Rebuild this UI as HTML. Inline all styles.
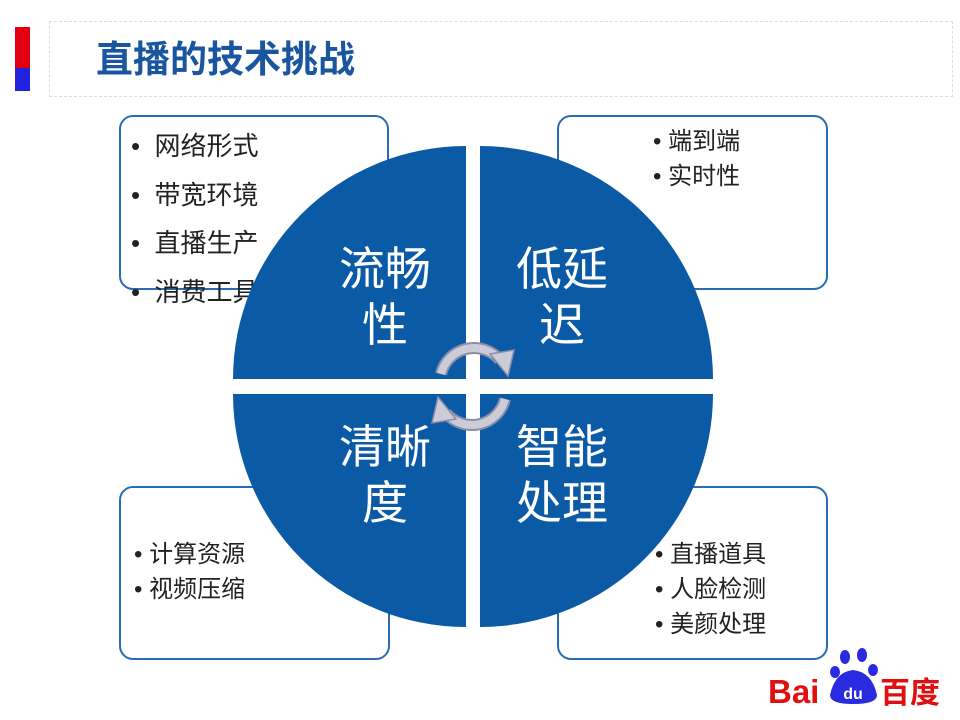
<!DOCTYPE html>
<html><head><meta charset="utf-8"><style>
body{margin:0;width:960px;height:720px;background:#fff;overflow:hidden;position:relative;font-family:"Liberation Sans","Noto Sans CJK SC",sans-serif}
.bar1{position:absolute;left:15px;top:27px;width:15px;height:41px;background:#e00010}
.bar2{position:absolute;left:15px;top:68px;width:15px;height:23px;background:#2222e0}
.hdr{position:absolute;left:49px;top:21px;width:904px;height:76px;border:1px dashed #ddd;box-sizing:border-box}
.title{position:absolute;left:96px;top:37px;font-size:37px;font-weight:bold;color:#1a55a0;line-height:46px}
.box{position:absolute;border:2px solid #2a6cb3;border-radius:14px;box-sizing:border-box}
.t{position:absolute;font-size:24px;color:#222;line-height:28px;white-space:nowrap}
.L{font-size:26px}
</style></head><body>
<div class="bar1"></div><div class="bar2"></div>
<div class="hdr"></div>
<div class="title">直播的技术挑战</div>
<div class="box" style="left:119px;top:115px;width:270px;height:175px"></div>
<div class="box" style="left:557px;top:115px;width:271px;height:175px"></div>
<div class="box" style="left:119px;top:486px;width:271px;height:174px"></div>
<div class="box" style="left:557px;top:486px;width:271px;height:174px"></div>
<div class="t L" style="left:131px;top:132px">•&nbsp; 网络形式</div>
<div class="t L" style="left:131px;top:181px">•&nbsp; 带宽环境</div>
<div class="t L" style="left:131px;top:229px">•&nbsp; 直播生产</div>
<div class="t L" style="left:131px;top:278px">•&nbsp; 消费工具</div>
<div class="t" style="left:653px;top:128px">• 端到端</div>
<div class="t" style="left:653px;top:163px">• 实时性</div>
<div class="t" style="left:134px;top:541px">• 计算资源</div>
<div class="t" style="left:134px;top:576px">• 视频压缩</div>
<div class="t" style="left:655px;top:541px">• 直播道具</div>
<div class="t" style="left:655px;top:576px">• 人脸检测</div>
<div class="t" style="left:655px;top:611px">• 美颜处理</div>
<svg width="960" height="720" style="position:absolute;left:0;top:0">
<g fill="#0b5aa6">
<path d="M466 379 L233 379 A233 233 0 0 1 466 146 Z"/>
<path d="M480 379 L480 146 A233 233 0 0 1 713 379 Z"/>
<path d="M466 394 L466 627 A233 233 0 0 1 233 394 Z"/>
<path d="M480 394 L713 394 A233 233 0 0 1 480 627 Z"/>
</g>
<g fill="#fff" font-family="Liberation Sans,Noto Sans CJK SC,sans-serif" font-size="46" text-anchor="middle">
<text x="385" y="285">流畅</text><text x="385" y="341">性</text>
<text x="562" y="285">低延</text><text x="562" y="341">迟</text>
<text x="385" y="463">清晰</text><text x="385" y="519">度</text>
<text x="562" y="463">智能</text><text x="562" y="519">处理</text>
</g>
<g fill="none" stroke-linecap="butt">
<path d="M441 374 A34 34 0 0 1 500 360" stroke="#8a8ea8" stroke-width="12"/>
<path d="M441 374 A34 34 0 0 1 500 360" stroke="#ccccd8" stroke-width="8"/>
<path d="M505 399 A34 34 0 0 1 446 413" stroke="#8a8ea8" stroke-width="12"/>
<path d="M505 399 A34 34 0 0 1 446 413" stroke="#ccccd8" stroke-width="8"/>
</g>
<polygon points="490,354 514,350 508,376" fill="#ccccd8" stroke="#8a8ea8" stroke-width="1.5"/>
<polygon points="456,419 432,423 438,397" fill="#ccccd8" stroke="#8a8ea8" stroke-width="1.5"/>
<g>
<text x="768" y="703" font-family="Liberation Sans,sans-serif" font-weight="bold" font-size="33" fill="#e01010">Bai</text>
<ellipse cx="845" cy="657" rx="5" ry="7" fill="#2a2ae0"/>
<ellipse cx="862" cy="655" rx="5" ry="7" fill="#2a2ae0"/>
<ellipse cx="835" cy="672" rx="5" ry="6" fill="#2a2ae0"/>
<ellipse cx="873" cy="670" rx="5" ry="6" fill="#2a2ae0"/>
<path d="M830 695 Q835 672 853 670 Q872 672 877 695 Q877 704 853 704 Q830 704 830 695Z" fill="#2a2ae0"/>
<text x="853" y="699" font-family="Liberation Sans,sans-serif" font-weight="bold" font-size="16" fill="#fff" text-anchor="middle">du</text>
<text x="880" y="703" font-family="Liberation Sans,Noto Sans CJK SC,sans-serif" font-weight="bold" font-size="30" fill="#e01010">百度</text>
</g>
</svg>
</body></html>
